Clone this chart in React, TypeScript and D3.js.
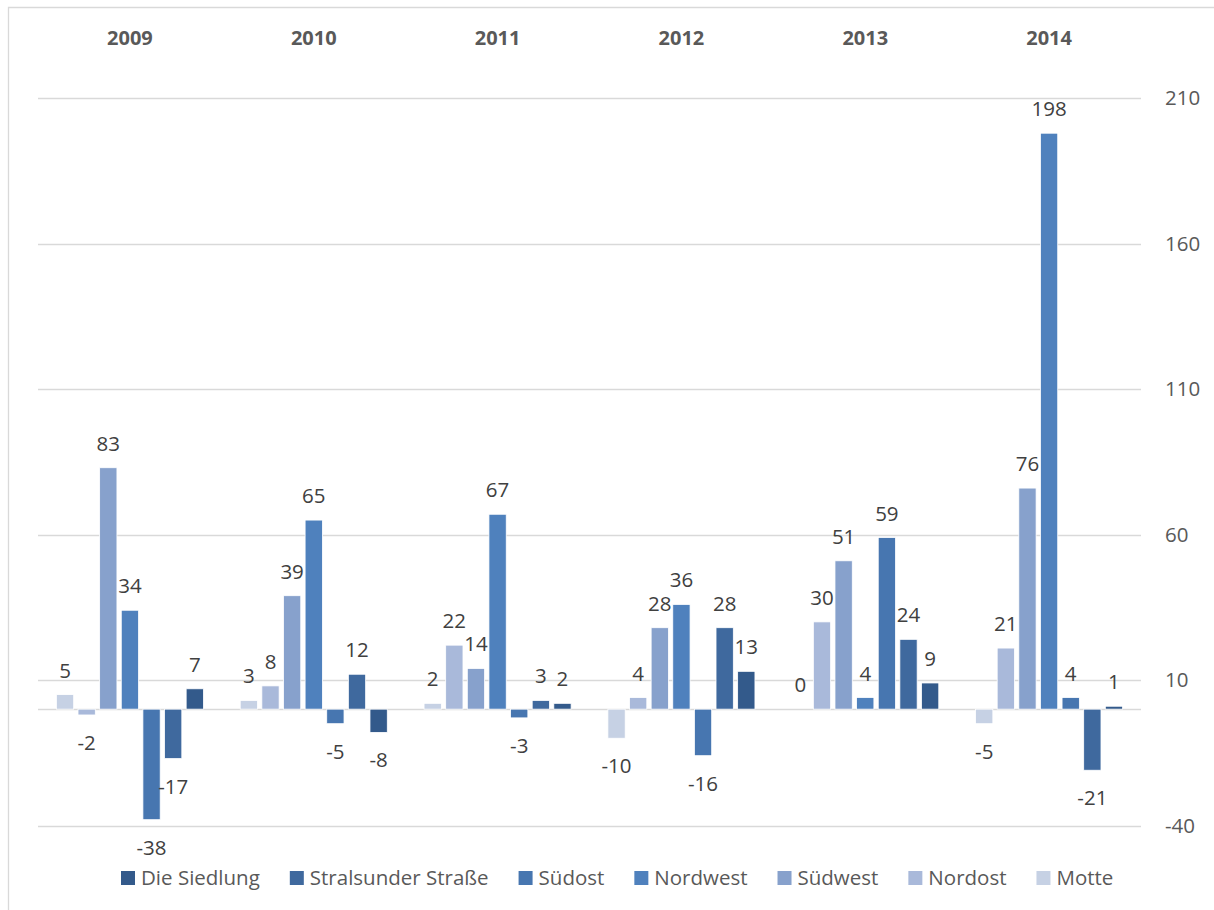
import React, { useEffect, useRef } from "react";
import * as d3 from "d3";

// Year groups along the x axis
const years = ["2009", "2010", "2011", "2012", "2013", "2014"];

// Series in drawing order within each group (left to right)
const seriesNames = ["Motte", "Nordost", "Südwest", "Nordwest", "Südost", "Stralsunder Straße", "Die Siedlung"];

// Legend order
const legendOrder = ["Die Siedlung", "Stralsunder Straße", "Südost", "Nordwest", "Südwest", "Nordost", "Motte"];

const seriesColors: Record<string, string> = {
  "Die Siedlung": "#335a8b",
  "Stralsunder Straße": "#3f699e",
  "Südost": "#4776b0",
  "Nordwest": "#4f81bd",
  "Südwest": "#87a1cc",
  "Nordost": "#a9b9da",
  "Motte": "#c6d1e4",
};

// Values per series, one per year
const motte = [5, 3, 2, -10, 0, -5];
const nordost = [-2, 8, 22, 4, 30, 21];
const suedwest = [83, 39, 14, 28, 51, 76];
const nordwest = [34, 65, 67, 36, 4, 198];
const suedost = [-38, -5, -3, -16, 59, 4];
const stralsunder = [-17, 12, 3, 28, 24, -21];
const siedlung = [7, -8, 2, 13, 9, 1];

const seriesValues: Record<string, number[]> = {
  "Motte": motte,
  "Nordost": nordost,
  "Südwest": suedwest,
  "Nordwest": nordwest,
  "Südost": suedost,
  "Stralsunder Straße": stralsunder,
  "Die Siedlung": siedlung,
};

const yTicks = [-40, 10, 60, 110, 160, 210];

const W = 1214;
const H = 910;
const FONT = "'Open Sans', 'Noto Sans', sans-serif";

export default function App() {
  const ref = useRef<SVGSVGElement>(null);

  useEffect(() => {
    const svg = d3.select(ref.current);
    svg.selectAll("*").remove();

    // chart frame
    svg.append("path")
      .attr("d", `M8.5,${H + 5} L8.5,7.5 L${W + 5},7.5`)
      .attr("fill", "none")
      .attr("stroke", "#d9d9d9")
      .attr("stroke-width", 1.3);

    const x0 = d3.scaleBand<string>().domain(years).range([38, 1141]).paddingInner(0).paddingOuter(0);
    const x1 = d3.scaleBand<string>().domain(seriesNames).range([0, x0.bandwidth()]).paddingInner(0.2).paddingOuter(0.85);
    const y = d3.scaleLinear().domain([-40, 210]).range([825.5, 98.3]);

    // gridlines
    svg.append("g").selectAll("line").data(yTicks).join("line")
      .attr("x1", 38).attr("x2", 1141)
      .attr("y1", (d) => Math.round(y(d)) + 0.5).attr("y2", (d) => Math.round(y(d)) + 0.5)
      .attr("stroke", "#d9d9d9").attr("stroke-width", 1.3);

    // zero line
    svg.append("line")
      .attr("x1", 38).attr("x2", 1141)
      .attr("y1", Math.round(y(0)) + 0.5).attr("y2", Math.round(y(0)) + 0.5)
      .attr("stroke", "#d9d9d9").attr("stroke-width", 1.3);

    // right axis labels
    svg.append("g").selectAll("text").data(yTicks).join("text")
      .attr("x", 1165).attr("y", (d) => y(d) + 7)
      .attr("font-family", FONT).attr("font-size", 20.5)
      .attr("fill", "#595959")
      .text((d) => String(d));

    // year labels at the top
    svg.append("g").selectAll("text").data(years).join("text")
      .attr("x", (d) => (x0(d) as number) + x0.bandwidth() / 2)
      .attr("y", 45)
      .attr("text-anchor", "middle")
      .attr("font-family", FONT).attr("font-size", 20).attr("font-weight", 700)
      .attr("fill", "#595959")
      .text((d) => d);

    type Cell = { year: string; series: string; value: number };
    const cells: Cell[] = [];
    years.forEach((yr, i) => {
      seriesNames.forEach((s) => cells.push({ year: yr, series: s, value: seriesValues[s][i] }));
    });

    const bars = svg.append("g");
    bars.selectAll("rect").data(cells.filter((c) => c.value !== 0)).join("rect")
      .attr("x", (d) => (x0(d.year) as number) + (x1(d.series) as number))
      .attr("width", x1.bandwidth())
      .attr("y", (d) => Math.min(y(d.value), y(0)))
      .attr("height", (d) => Math.abs(y(d.value) - y(0)))
      .attr("fill", (d) => seriesColors[d.series])
      .attr("stroke", "#ffffff").attr("stroke-width", 0.8);

    // data labels
    svg.append("g").selectAll("text").data(cells).join("text")
      .attr("x", (d) => (x0(d.year) as number) + (x1(d.series) as number) + x1.bandwidth() / 2)
      .attr("y", (d) => (d.value >= 0 ? y(d.value) - 17 : y(d.value) + 35))
      .attr("text-anchor", "middle")
      .attr("font-family", FONT).attr("font-size", 20.5)
      .attr("fill", "#404040")
      .text((d) => String(d.value));

    // legend
    const legend = svg.append("g");
    let lx = 121;
    legendOrder.forEach((name) => {
      legend.append("rect")
        .attr("x", lx).attr("y", 871).attr("width", 14).attr("height", 14)
        .attr("fill", seriesColors[name]);
      const t = legend.append("text")
        .attr("x", lx + 20).attr("y", 885)
        .attr("font-family", FONT).attr("font-size", 20.5)
        .attr("fill", "#595959")
        .text(name);
      const w = (t.node() as SVGTextElement).getComputedTextLength();
      lx += 20 + w + 30;
    });
  }, []);

  return (
    <svg
      ref={ref}
      width={W}
      height={H}
      style={{ position: "absolute", left: 0, top: 0, background: "#ffffff" }}
    />
  );
}
